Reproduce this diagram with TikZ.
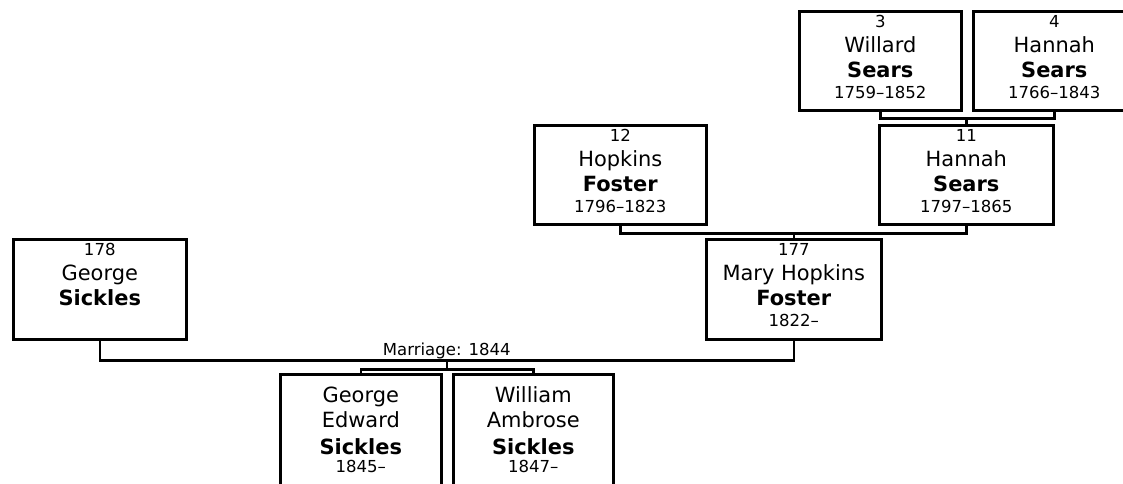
\documentclass[tikz,border=0pt]{standalone}
\usepackage{fontspec}
\setmainfont{DejaVu Sans}
\usetikzlibrary{calc}
\newcommand\fourlines[5]{%
  \node[small] (#1-n) at ([yshift=-13.2pt]#1.north) {#2};
  \node[given] (#1-g) at ([yshift=-31.5pt]#1.north) {#3};
  \node[sur] (#1-s) at ([yshift=-50.6pt]#1.north) {#4};
  \node[small] (#1-d) at ([yshift=-66.4pt]#1.north) {#5};}
\newcommand\kidlines[5]{%
  \node[given] (#1-g) at ([yshift=-22pt]#1.north) {#2};
  \node[given] (#1-h) at ([yshift=-41pt]#1.north) {#3};
  \node[sur] (#1-s) at ([yshift=-60.75pt]#1.north) {#4};
  \node[small] (#1-d) at ([yshift=-74.5pt]#1.north) {#5};}
\begin{document}
\begin{tikzpicture}[x=0.75pt,y=-0.75pt,
  pbox/.style={draw, line width=1.9pt, inner sep=0pt, anchor=north west},
  small/.style={font=\fontsize{12.4pt}{14pt}\selectfont, anchor=base, inner sep=0pt},
  given/.style={font=\fontsize{15.7pt}{18pt}\selectfont, anchor=base, inner sep=0pt},
  sur/.style={font=\fontsize{15.7pt}{18pt}\selectfont\bfseries, anchor=base, inner sep=0pt},
  link/.style={line width=1.9pt}]
\useasboundingbox (0,0) rectangle (1123,483);
\clip (0,0) rectangle (1123,483);
% boxes
\node[pbox, minimum width=121.5pt, minimum height=74.25pt] (p3) at (798,10) {};
\node[pbox, minimum width=121.5pt, minimum height=74.25pt] (p4) at (972,10) {};
\node[pbox, minimum width=130.5pt, minimum height=74.25pt] (p11) at (878,124) {};
\node[pbox, minimum width=129pt, minimum height=74.25pt] (p12) at (533,124) {};
\node[pbox, minimum width=131.25pt, minimum height=75pt] (p177) at (705,238) {};
\node[pbox, minimum width=129.75pt, minimum height=75pt] (p178) at (12,238) {};
\node[pbox, minimum width=120.75pt, minimum height=90pt] (p1) at (279,373) {};
\node[pbox, minimum width=120pt, minimum height=90pt] (p2) at (452,373) {};
% texts
\fourlines{p3}{3}{Willard}{Sears}{1759--1852}
\fourlines{p4}{4}{Hannah}{Sears}{1766--1843}
\fourlines{p11}{11}{Hannah}{Sears}{1797--1865}
\fourlines{p12}{12}{Hopkins}{Foster}{1796--1823}
\fourlines{p177}{177}{Mary Hopkins}{Foster}{1822--}
\node[small] (p178-n) at ([yshift=-13.2pt]p178.north) {178};
\node[given] (p178-g) at ([yshift=-31.5pt]p178.north) {George};
\node[sur] (p178-s) at ([yshift=-50.6pt]p178.north) {Sickles};
\kidlines{p1}{George}{Edward}{Sickles}{1845--}
\kidlines{p2}{William}{Ambrose}{Sickles}{1847--}
% connectors
\draw[link] (p3.south) -- ++(0,7) coordinate (m1) -| (p4.south);
\draw[link] (p11.north) -- (p11.north |- m1);
\draw[link] (p12.south) -- ++(0,8) coordinate (m2) -| (p11.south);
\draw[link] (p177.north) -- (p177.north |- m2);
\draw[link] (p178.south) -- ++(0,20) coordinate (m3) -| (p177.south);
\coordinate (m4) at ($(m3)!.5!(m3 -| p177.south)$);
\node[small] (mar) at ([yshift=3.5pt]m4) {Marriage: 1844};
\draw[link] (m4) -- ++(0,9) coordinate (m5);
\draw[link] (p1.north) |- (m5) -| (p2.north);
\end{tikzpicture}
\end{document}
